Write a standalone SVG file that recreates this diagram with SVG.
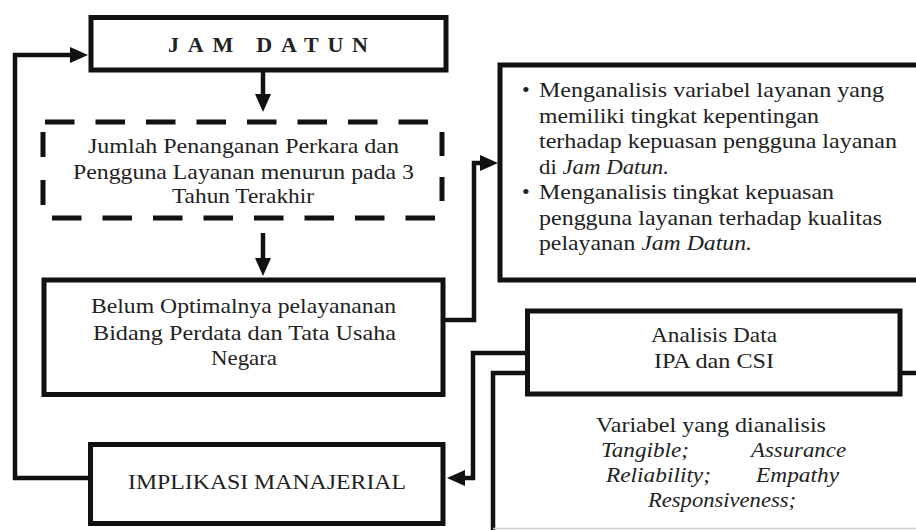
<svg xmlns="http://www.w3.org/2000/svg" width="916" height="530" viewBox="0 0 916 530">
<style>
  .box { fill: #fff; stroke: #111; stroke-width: 5; }
  .dash { fill: none; stroke: #111; stroke-width: 5; }
  .con { fill: none; stroke: #111; stroke-width: 4.5; stroke-linejoin: miter; }
  .t { font-family: "Liberation Serif", "Times New Roman", serif; font-size: 22px; fill: #222; }
  .i { font-style: italic; }
  .b { font-weight: bold; }
</style>
<defs>
  <marker id="ah" viewBox="0 0 18 16" markerWidth="18" markerHeight="16" refX="4" refY="8" orient="auto" markerUnits="userSpaceOnUse">
    <path d="M0,0 L18,8 L0,16 z" fill="#111"/>
  </marker>
</defs>
<rect width="916" height="530" fill="#fff"/>

<g id="variables-box">
  <path class="con" d="M527,373 H493 V532"/>
  <path class="con" d="M900,373 H918"/>
  <line x1="493" y1="528.5" x2="916" y2="528.5" stroke="#d0d0d0" stroke-width="1.5"/>
  <text class="t" x="596" y="432" textLength="230" lengthAdjust="spacingAndGlyphs">Variabel yang dianalisis</text>
  <text class="t i" x="601" y="457" textLength="88" lengthAdjust="spacingAndGlyphs">Tangible;</text>
  <text class="t i" x="751" y="457" textLength="95" lengthAdjust="spacingAndGlyphs">Assurance</text>
  <text class="t i" x="606" y="482" textLength="105" lengthAdjust="spacingAndGlyphs">Reliability;</text>
  <text class="t i" x="756" y="482" textLength="83" lengthAdjust="spacingAndGlyphs">Empathy</text>
  <text class="t i" x="648" y="507" textLength="148" lengthAdjust="spacingAndGlyphs">Responsiveness;</text>
</g>

<g id="connectors">
  <path class="con" d="M263,70 V98" marker-end="url(#ah)"/>
  <path class="con" d="M263,233 V262" marker-end="url(#ah)"/>
  <path class="con" d="M445,320 H474 V163 H484" marker-end="url(#ah)"/>
  <path class="con" d="M527,353 H473 V478 H461" marker-end="url(#ah)"/>
  <path class="con" d="M88,478 H15 V55 H74" marker-end="url(#ah)"/>
</g>

<g id="jam-datun">
  <rect class="box" x="91" y="17.5" width="355" height="52.5"/>
  <text class="t b" x="168" y="51.5" font-size="22" textLength="200" lengthAdjust="spacing">JAM DATUN</text>
</g>

<g id="jumlah-penanganan">
  <path class="dash" d="M45,122 H430" stroke-dasharray="29.5 21"/>
  <path class="dash" d="M52,218 H437" stroke-dasharray="29.5 21"/>
  <path class="dash" d="M43,132 V205" stroke-dasharray="25 23"/>
  <path class="dash" d="M442,132 V202" stroke-dasharray="24 21"/>
  <text class="t" x="88" y="153" textLength="311" lengthAdjust="spacingAndGlyphs">Jumlah Penanganan  Perkara dan</text>
  <text class="t" x="73" y="179" textLength="341" lengthAdjust="spacingAndGlyphs">Pengguna Layanan  menurun pada 3</text>
  <text class="t" x="172" y="203" textLength="142" lengthAdjust="spacingAndGlyphs">Tahun Terakhir</text>
</g>

<g id="belum-optimal">
  <rect class="box" x="44" y="280" width="399" height="114.5"/>
  <text class="t" x="91" y="313" textLength="305" lengthAdjust="spacingAndGlyphs">Belum Optimalnya pelayananan</text>
  <text class="t" x="93" y="340" textLength="303" lengthAdjust="spacingAndGlyphs">Bidang Perdata dan Tata Usaha</text>
  <text class="t" x="211" y="365" textLength="66" lengthAdjust="spacingAndGlyphs">Negara</text>
</g>

<g id="implikasi">
  <rect class="box" x="90.5" y="444.5" width="352.5" height="79"/>
  <text class="t" x="128" y="489" textLength="278" lengthAdjust="spacingAndGlyphs">IMPLIKASI MANAJERIAL</text>
</g>

<g id="tujuan">
  <rect class="box" x="500" y="65" width="430" height="215"/>
  <text class="t" x="522" y="97">•</text>
  <text class="t" x="539" y="97" textLength="345" lengthAdjust="spacingAndGlyphs">Menganalisis  variabel layanan yang</text>
  <text class="t" x="539" y="122.5" textLength="280" lengthAdjust="spacingAndGlyphs">memiliki tingkat kepentingan</text>
  <text class="t" x="539" y="148" textLength="358" lengthAdjust="spacingAndGlyphs">terhadap kepuasan pengguna layanan</text>
  <text class="t" x="539" y="173.5" textLength="130" lengthAdjust="spacingAndGlyphs">di <tspan class="i">Jam Datun.</tspan></text>
  <text class="t" x="522" y="199">•</text>
  <text class="t" x="539" y="199" textLength="295" lengthAdjust="spacingAndGlyphs">Menganalisis  tingkat kepuasan</text>
  <text class="t" x="539" y="224.5" textLength="343" lengthAdjust="spacingAndGlyphs">pengguna layanan terhadap kualitas</text>
  <text class="t" x="539" y="250" textLength="213" lengthAdjust="spacingAndGlyphs">pelayanan <tspan class="i">Jam Datun.</tspan></text>
</g>

<g id="analisis-data">
  <rect class="box" x="527.5" y="311" width="372.5" height="83"/>
  <text class="t" x="651" y="342" textLength="126" lengthAdjust="spacingAndGlyphs">Analisis Data</text>
  <text class="t" x="654" y="368" textLength="120" lengthAdjust="spacingAndGlyphs">IPA dan CSI</text>
</g>
</svg>
